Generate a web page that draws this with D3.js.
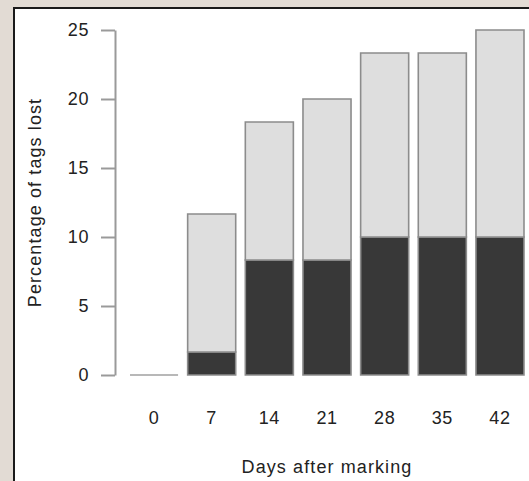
<!DOCTYPE html>
<html>
<head>
<meta charset="utf-8">
<script src="https://cdn.jsdelivr.net/npm/d3@7"></script>
<style>
  * {
    box-sizing: border-box;
  }

  body {
    margin: 0;
    background: #e2dbd4;
  }

  #chart {
    display: block;
    font-family: "Liberation Sans", Arial, sans-serif;
  }

  .axis text {
    fill: #222;
    font-size: 18px;
    letter-spacing: 0.6px;
  }

  .axis path,
  .axis line {
    stroke: #9a9a9a;
    stroke-width: 2px;
  }

  .title {
    fill: #222;
    font-size: 18px;
    letter-spacing: 1.1px;
  }
</style>
</head>
<body>
<svg id="chart" width="529" height="481"></svg>
<script>
const days = ["0", "7", "14", "21", "28", "35", "42"];
const lostBoth = [0, 1.67, 8.33, 8.33, 10, 10, 10];
const lostOne = [0, 10, 10, 11.67, 13.33, 13.33, 15];
const yTicks = [0, 5, 10, 15, 20, 25];

const width = 529;
const height = 481;

const chart = d3.select("#chart");

//=== Panel frame ===
chart
  .append("rect")
  .attr("x", 14)
  .attr("y", 8)
  .attr("width", width - 14)
  .attr("height", height - 8)
  .attr("fill", "#fff");

chart
  .append("path")
  .attr("d", `M14,${height}V8H${width}`)
  .attr("fill", "none")
  .attr("stroke", "#1a1a1a")
  .attr("stroke-width", 2);

const x = d3
  .scaleBand()
  .domain(days)
  .range([130, 524])
  .paddingInner(1 / 6)
  .paddingOuter(0);

const y = d3.scaleLinear().domain([0, 25]).range([375, 30]);

const rows = days.map((d, i) => ({
  day: d,
  both: lostBoth[i],
  one: lostOne[i],
}));

const stacked = d3.stack().keys(["both", "one"])(rows);
const fills = { both: "#383838", one: "#dedede" };

//=== Add bars ===
// paths instead of rects so an empty bar still shows as a line
stacked.forEach((layer) => {
  chart
    .append("g")
    .selectAll("path")
    .data(layer)
    .join("path")
    .attr("d", (d) => {
      const x0 = x(d.data.day);
      const x1 = x0 + x.bandwidth();
      return `M${x0},${y(d[0])}H${x1}V${y(d[1])}H${x0}Z`;
    })
    .attr("fill", fills[layer.key])
    .attr("stroke", (d) => (d[1] === d[0] ? "#b4b4b4" : "#8c8c8c"))
    .attr("stroke-width", (d) => (d[1] === d[0] ? 1.4 : 1.6));
});

//=== Add y axis ===
chart
  .append("g")
  .attr("class", "axis")
  .attr("transform", "translate(115,0)")
  .call(
    d3
      .axisLeft(y)
      .tickValues(yTicks)
      .tickSize(14)
      .tickSizeOuter(0)
      .tickPadding(12)
  );

//=== Add day labels (no tick marks) ===
chart
  .append("g")
  .attr("class", "axis")
  .selectAll("text")
  .data(days)
  .join("text")
  .attr("x", (d) => x(d) + x.bandwidth() / 2)
  .attr("y", 424)
  .attr("text-anchor", "middle")
  .text((d) => d);

//=== Axis titles ===
chart
  .append("text")
  .attr("class", "title")
  .attr("x", (x.range()[0] + x.range()[1]) / 2)
  .attr("y", 473)
  .attr("text-anchor", "middle")
  .text("Days after marking");

chart
  .append("text")
  .attr("class", "title")
  .attr("transform", `translate(41,${(y(0) + y(25)) / 2}) rotate(-90)`)
  .attr("text-anchor", "middle")
  .text("Percentage of tags lost");
</script>
</body>
</html>
